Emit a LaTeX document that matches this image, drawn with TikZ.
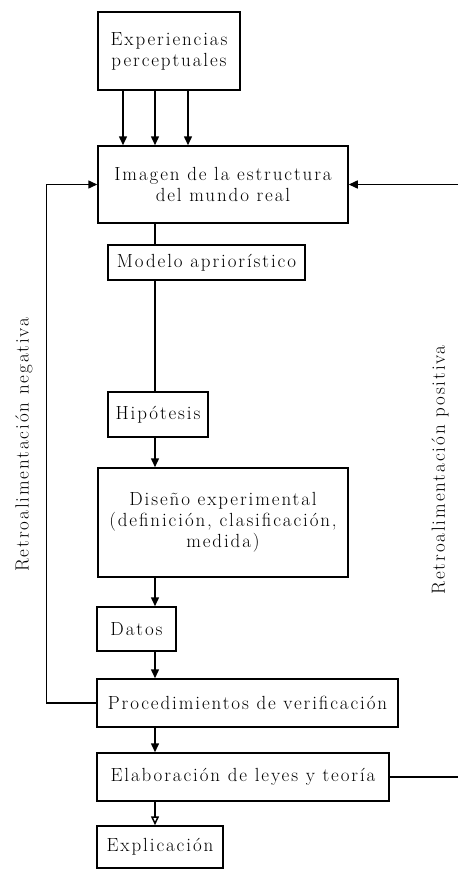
\documentclass[tikz,border=0pt]{standalone}
\usepackage{fontspec}
\setmainfont{Latin Modern Roman}[LetterSpace=10]
\usetikzlibrary{positioning,arrows.meta}

\begin{document}
\begin{tikzpicture}[x=1pt,y=-1pt,
    font=\fontsize{19}{21}\selectfont,
    caja/.style={draw,line width=1.5pt,align=center,inner sep=0pt},
    flecha/.style={line width=1.5pt,-{Triangle[length=9pt,width=8pt]}},
    linea/.style={line width=1.5pt}]
    \useasboundingbox (0,0) rectangle (458,870);
    % Boxes
    \node[caja,minimum width=142pt,minimum height=78pt] (exp) at (169,51) {Experiencias\\perceptuales};
    \node[caja,minimum width=250pt,minimum height=77pt] (img) at (223,184.5) {Imagen de la estructura\\del mundo real};
    \node[caja,minimum width=197pt,minimum height=35pt] (mod) at (206.5,262.5) {Modelo apriorístico};
    \node[caja,minimum width=100pt,minimum height=45pt] (hip) at (158,414.5) {Hipótesis};
    \node[caja,minimum width=250pt,minimum height=109pt] (dis) at (223,522.5) {Diseño experimental\\(definición, clasificación,\\medida)};
    \node[caja,minimum width=79pt,minimum height=44pt] (dat) at (136.5,629) {Datos};
    \node[caja,minimum width=301pt,minimum height=48pt] (pro) at (247.5,703) {Procedimientos de verificación};
    \node[caja,minimum width=292pt,minimum height=48pt] (ela) at (243,777) {Elaboración de leyes y teoría};
    \node[caja,minimum width=126pt,minimum height=42pt] (expl) at (160,847) {Explicación};
    \coordinate (eje) at (155,0);
    \coordinate (borde) at (458,0);
    % Perceptions into the image
    \foreach \xa in {123,155,188}
        \draw[flecha] (exp.south -| \xa,0) -- (img.north -| \xa,0);
    % Main chain
    \draw[linea] (img.south -| eje) -- (mod.north -| eje);
    \draw[linea] (mod.south -| eje) -- (hip.north -| eje);
    \draw[flecha] (hip.south -| eje) -- (dis.north -| eje);
    \draw[flecha] (dis.south -| eje) -- (dat.north -| eje);
    \draw[flecha] (dat.south -| eje) -- (pro.north -| eje);
    \draw[flecha] (pro.south -| eje) -- (ela.north -| eje);
    \draw[line width=1.5pt,-{Triangle[open,length=9pt,width=8pt]}] (ela.south -| eje) -- (expl.north -| eje);
    % Feedback loops
    \draw[flecha] (pro.west) -- ++(-50,0) |- (img.west);
    \draw[flecha] (img.east -| borde) -- (img.east);
    \draw[linea] (ela.east) -- (ela.east -| borde);
    \node[rotate=90] (neg) at (24,445) {Retroalimentación negativa};
    \node[rotate=90] (pos) at (440,470) {Retroalimentación positiva};
\end{tikzpicture}
\end{document}
